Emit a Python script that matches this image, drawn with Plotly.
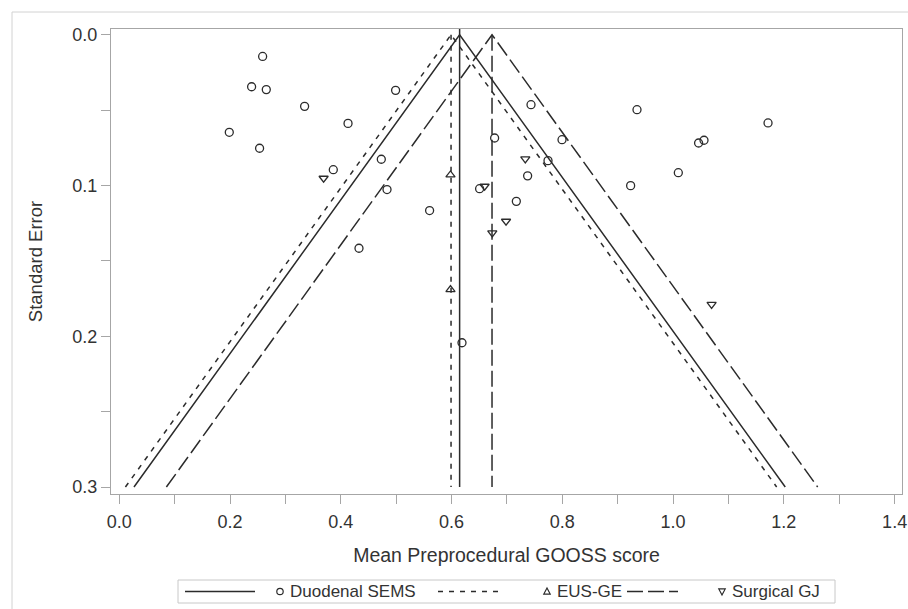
import plotly.graph_objects as go

# ---------------- data ----------------
group_names = ["Duodenal SEMS", "EUS-GE", "Surgical GJ"]
pooled_mean = [0.6145, 0.599, 0.673]
se_max = 0.3
z_crit = 1.96

sems_x = [0.2588, 0.2389, 0.2654, 0.3346, 0.1986, 0.2533, 0.4989, 0.4130, 0.3864,
          0.4731, 0.4834, 0.5603, 0.4328, 0.6777, 0.6506, 0.7434, 0.7373, 0.7169,
          0.7741, 0.7994, 0.9348, 1.1714, 1.0460, 1.0558, 1.0094, 0.9233, 0.6188]
sems_se = [0.0144, 0.0345, 0.0364, 0.0475, 0.0647, 0.0753, 0.0369, 0.0588, 0.0895,
           0.0826, 0.1027, 0.1166, 0.1416, 0.0685, 0.1021, 0.0464, 0.0936, 0.1105,
           0.0835, 0.0696, 0.0497, 0.0585, 0.0718, 0.0700, 0.0915, 0.1001, 0.2043]

eus_x = [0.598, 0.598]
eus_se = [0.0930, 0.1690]

gj_x = [0.3689, 0.6596, 0.6983, 0.6735, 0.7331, 1.0695]
gj_se = [0.0952, 0.1005, 0.1237, 0.1314, 0.0824, 0.1789]

x_tick_vals = [0.0, 0.2, 0.4, 0.6, 0.8, 1.0, 1.2, 1.4]
y_tick_vals = [0.0, 0.1, 0.2, 0.3]

# ---------------- styles ----------------
FONT = "Liberation Sans, Arial, sans-serif"
INK = "#2b2b2b"
TXT = "#333333"
FRAME = "#a6a6a6"
dashes = ["solid", "5px,6px", "16px,5px"]
symbols = ["circle-open", "triangle-up-open", "triangle-down-open"]
points = [(sems_x, sems_se), (eus_x, eus_se), (gj_x, gj_se)]

W, H = 908, 609
ML, MR, MT, MB = 111, 6, 29, 115
PW, PH = W - ML - MR, H - MT - MB
x_range = [-0.015, 1.4133]
y_range = [0.3046, -0.0038]


def px(xp):
    return (xp - ML) / PW


def py(yp):
    return (H - MB - yp) / PH


fig = go.Figure()

for i, m in enumerate(pooled_mean):
    lo = m - z_crit * se_max
    hi = m + z_crit * se_max
    fig.add_trace(go.Scatter(x=[lo, m, hi], y=[se_max, 0, se_max], mode="lines",
                             line=dict(color=INK, width=1.5, dash=dashes[i]),
                             showlegend=False, hoverinfo="skip"))
    ytop = y_range[1] if i == 0 else 0
    fig.add_trace(go.Scatter(x=[m, m], y=[ytop, se_max], mode="lines",
                             line=dict(color=INK, width=1.5, dash=dashes[i]),
                             showlegend=False, hoverinfo="skip"))

for i, (xs, ses) in enumerate(points):
    fig.add_trace(go.Scatter(x=xs, y=ses, mode="markers", name=group_names[i],
                             marker=dict(symbol=symbols[i], size=8, color=INK,
                                         line=dict(width=1.3, color=INK)),
                             showlegend=False))

# ---------------- manual legend (SAS style) ----------------
shapes = []
annotations = []
# outer figure frame
shapes.append(dict(type="rect", xref="paper", yref="paper",
                   x0=px(12), x1=px(960), y0=py(660), y1=py(12),
                   line=dict(color="#d2d2d2", width=1), layer="below"))
# legend box
shapes.append(dict(type="rect", xref="paper", yref="paper",
                   x0=px(178), x1=px(835), y0=py(603), y1=py(580),
                   line=dict(color="#c8c8c8", width=1), fillcolor="white"))
leg_y = 591.5
line_samples = [(185, 255), (438, 501), (627, 678)]
marker_x = [280, 547, 722]
text_x = [288, 555, 730]
for i in range(3):
    x0, x1 = line_samples[i]
    shapes.append(dict(type="line", xref="paper", yref="paper",
                       x0=px(x0), x1=px(x1), y0=py(leg_y), y1=py(leg_y),
                       line=dict(color=INK, width=1.5, dash=dashes[i])))
    cx = marker_x[i]
    r = 3.2
    if i == 0:
        shapes.append(dict(type="circle", xref="paper", yref="paper",
                           x0=px(cx - r), x1=px(cx + r), y0=py(leg_y + r), y1=py(leg_y - r),
                           line=dict(color=INK, width=1.2)))
    elif i == 1:
        path = "M {:.5f},{:.5f} L {:.5f},{:.5f} L {:.5f},{:.5f} Z".format(
            px(cx - r), py(leg_y + r * 0.8), px(cx + r), py(leg_y + r * 0.8), px(cx), py(leg_y - r * 1.1))
        shapes.append(dict(type="path", xref="paper", yref="paper", path=path,
                           line=dict(color=INK, width=1.2)))
    else:
        path = "M {:.5f},{:.5f} L {:.5f},{:.5f} L {:.5f},{:.5f} Z".format(
            px(cx - r), py(leg_y - r * 0.8), px(cx + r), py(leg_y - r * 0.8), px(cx), py(leg_y + r * 1.1))
        shapes.append(dict(type="path", xref="paper", yref="paper", path=path,
                           line=dict(color=INK, width=1.2)))
    annotations.append(dict(xref="paper", yref="paper", x=px(text_x[i]), y=py(leg_y),
                            xanchor="left", yanchor="middle", showarrow=False,
                            text=group_names[i], font=dict(family=FONT, size=17, color=TXT)))

axis_common = dict(showline=True, mirror=True, linecolor=FRAME, linewidth=1,
                   showgrid=False, zeroline=False, ticks="outside", ticklen=9,
                   tickcolor=FRAME, tickwidth=1, tickformat=".1f",
                   ticklabeloverflow="allow",
                   tickfont=dict(family=FONT, size=18, color=TXT))

fig.update_layout(
    width=W, height=H,
    margin=dict(l=ML, r=MR, t=MT, b=MB, autoexpand=False),
    paper_bgcolor="white", plot_bgcolor="white",
    showlegend=False,
    xaxis=dict(range=x_range, tickvals=x_tick_vals, ticklabelstandoff=2,
               minor=dict(dtick=0.1, tick0=0, ticks="outside", ticklen=9,
                          tickcolor=FRAME, tickwidth=1, showgrid=False),
               title=dict(text="Mean Preprocedural GOOSS score",
                          font=dict(family=FONT, size=19.5, color=TXT), standoff=17),
               **axis_common),
    yaxis=dict(range=y_range, tickvals=y_tick_vals,
               minor=dict(dtick=0.05, tick0=0, ticks="outside", ticklen=9,
                          tickcolor=FRAME, tickwidth=1, showgrid=False),
               title=dict(text="Standard Error",
                          font=dict(family=FONT, size=18.5, color=TXT), standoff=24),
               **axis_common),
    shapes=shapes,
    annotations=annotations,
)

fig.write_html("out.html", config={"displayModeBar": False},
               post_script="document.body.style.margin='0';document.body.style.overflow='hidden';")
